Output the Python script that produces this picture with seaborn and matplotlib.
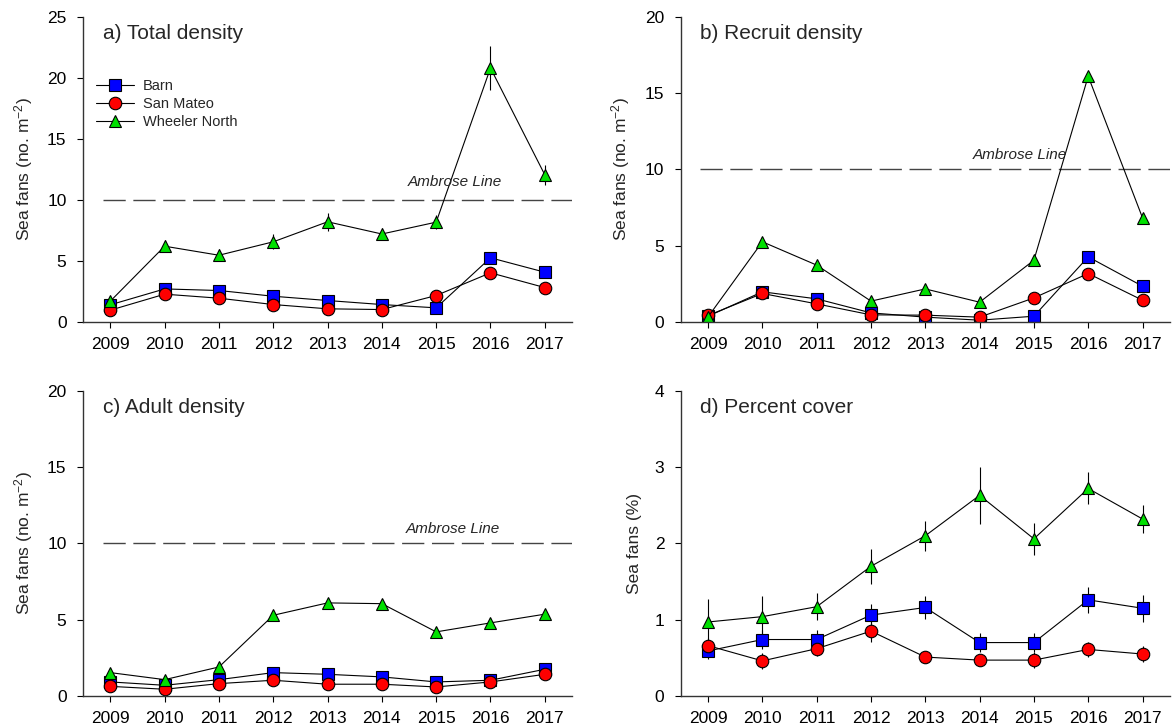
import matplotlib
matplotlib.use('Agg')
import matplotlib.pyplot as plt
import seaborn as sns

# data
years = [2009, 2010, 2011, 2012, 2013, 2014, 2015, 2016, 2017]
sites = ['Barn', 'San Mateo', 'Wheeler North']

# a) Total density (no. m-2)
total_barn = [1.4, 2.7, 2.57, 2.1, 1.75, 1.42, 1.15, 5.25, 4.07]
total_sm = [0.96, 2.27, 1.94, 1.42, 1.07, 1.01, 2.16, 4.02, 2.81]
total_wn = [1.7, 6.2, 5.46, 6.56, 8.2, 7.2, 8.17, 20.8, 12.05]
total_barn_se = [0.2, 0.2, 0.2, 0.2, 0.2, 0.2, 0.2, 0.4, 0.3]
total_sm_se = [0.2, 0.2, 0.2, 0.2, 0.2, 0.2, 0.2, 0.3, 0.2]
total_wn_se = [0.3, 0.5, 0.5, 0.6, 0.75, 0.5, 0.6, 1.78, 0.8]

# b) Recruit density (no. m-2)
recruit_barn = [0.37, 1.97, 1.51, 0.59, 0.31, 0.11, 0.37, 4.26, 2.34]
recruit_sm = [0.42, 1.86, 1.18, 0.46, 0.44, 0.31, 1.57, 3.17, 1.42]
recruit_wn = [0.33, 5.25, 3.72, 1.36, 2.16, 1.29, 4.04, 16.1, 6.82]
recruit_barn_se = [0.1, 0.2, 0.2, 0.1, 0.1, 0.1, 0.1, 0.3, 0.2]
recruit_sm_se = [0.1, 0.2, 0.2, 0.1, 0.1, 0.1, 0.2, 0.3, 0.2]
recruit_wn_se = [0.1, 0.3, 0.3, 0.2, 0.3, 0.2, 0.3, 0.3, 0.3]

# c) Adult density (no. m-2)
adult_barn = [0.92, 0.7, 1.07, 1.53, 1.42, 1.25, 0.92, 1.03, 1.75]
adult_sm = [0.63, 0.44, 0.81, 1.03, 0.77, 0.77, 0.59, 0.92, 1.42]
adult_wn = [1.53, 1.07, 1.9, 5.29, 6.1, 6.05, 4.2, 4.79, 5.36]
adult_barn_se = [0.1, 0.1, 0.1, 0.2, 0.2, 0.2, 0.1, 0.1, 0.2]
adult_sm_se = [0.1, 0.1, 0.1, 0.2, 0.1, 0.1, 0.1, 0.1, 0.2]
adult_wn_se = [0.2, 0.2, 0.2, 0.3, 0.3, 0.3, 0.3, 0.3, 0.3]

# d) Percent cover (%)
cover_barn = [0.59, 0.74, 0.74, 1.06, 1.16, 0.70, 0.70, 1.26, 1.15]
cover_sm = [0.66, 0.46, 0.62, 0.85, 0.51, 0.47, 0.47, 0.61, 0.55]
cover_wn = [0.97, 1.04, 1.17, 1.70, 2.10, 2.63, 2.06, 2.72, 2.32]
cover_barn_se = [0.1, 0.12, 0.12, 0.14, 0.15, 0.12, 0.12, 0.17, 0.18]
cover_sm_se = [0.1, 0.1, 0.1, 0.14, 0.08, 0.08, 0.1, 0.1, 0.1]
cover_wn_se = [0.3, 0.27, 0.18, 0.23, 0.2, 0.37, 0.21, 0.21, 0.18]

ambrose = 10

sns.set_style('ticks')
plt.rcParams['font.family'] = ['Liberation Sans', 'DejaVu Sans']
plt.rcParams['mathtext.default'] = 'regular'

site_colors = {'Barn': '#0000ff', 'San Mateo': '#ff0000', 'Wheeler North': '#00e000'}
site_markers = {'Barn': 's', 'San Mateo': 'o', 'Wheeler North': '^'}


def draw_panel(ax, series, errors, ymax, ystep, title, ylabel, line_y=None,
               text_x=None, text_y=None, legend=False):
    for site, vals, err in zip(sites, series, errors):
        ax.errorbar(years, vals, yerr=err, fmt='none', ecolor='black',
                    elinewidth=0.8, capsize=0, zorder=1)
        sns.lineplot(x=years, y=vals, ax=ax, color='black', lw=0.8,
                     marker=site_markers[site], markersize=9,
                     markerfacecolor=site_colors[site], markeredgecolor='black',
                     markeredgewidth=0.8, label=site if legend else None,
                     legend=False, zorder=2)
    if line_y is not None:
        ax.axhline(line_y, xmin=0.04, color='#444444', lw=1, dashes=(16, 5.5), zorder=0)
        ax.text(text_x, text_y, 'Ambrose Line', fontsize=11, style='italic',
                ha='center', va='center')
    ax.set_xlim(2008.5, 2017.5)
    ax.set_ylim(0, ymax)
    ax.set_xticks(years)
    ax.set_xticklabels([str(y) for y in years])
    ax.set_yticks(range(0, ymax + 1, ystep))
    ax.set_xlabel('')
    ax.set_ylabel(ylabel, fontsize=12.5, labelpad=9)
    ax.tick_params(axis='y', labelsize=12.5, length=4, width=0.8, pad=8, colors='black')
    ax.tick_params(axis='x', labelsize=12.5, length=4, width=0.8, pad=7, colors='black')
    for s in ['left', 'bottom']:
        ax.spines[s].set_linewidth(1)
        ax.spines[s].set_color('#333333')
    sns.despine(ax=ax)
    ax.text(0.04, 0.975, title, transform=ax.transAxes, fontsize=15,
            ha='left', va='top')
    if legend:
        ax.legend(loc='upper left', bbox_to_anchor=(0.0, 0.84), frameon=False,
                  fontsize=10.5, handlelength=2.6, labelspacing=0.3,
                  handletextpad=0.6)


fig, axes = plt.subplots(2, 2, figsize=(11.72, 7.28), dpi=100)
fig.subplots_adjust(left=0.071, right=0.998, top=0.977, bottom=0.044,
                    wspace=0.223, hspace=0.226)

dens_label = 'Sea fans (no. m$^{-2}$)'
draw_panel(axes[0, 0], [total_barn, total_sm, total_wn],
           [total_barn_se, total_sm_se, total_wn_se], 25, 5,
           'a) Total density', dens_label, ambrose, 2015.35, 11.5, legend=True)
draw_panel(axes[0, 1], [recruit_barn, recruit_sm, recruit_wn],
           [recruit_barn_se, recruit_sm_se, recruit_wn_se], 20, 5,
           'b) Recruit density', dens_label, ambrose, 2014.75, 10.95)
draw_panel(axes[1, 0], [adult_barn, adult_sm, adult_wn],
           [adult_barn_se, adult_sm_se, adult_wn_se], 20, 5,
           'c) Adult density', dens_label, ambrose, 2015.3, 10.95)
draw_panel(axes[1, 1], [cover_barn, cover_sm, cover_wn],
           [cover_barn_se, cover_sm_se, cover_wn_se], 4, 1,
           'd) Percent cover', 'Sea fans (%)')

fig.savefig('out.png', dpi=100)
